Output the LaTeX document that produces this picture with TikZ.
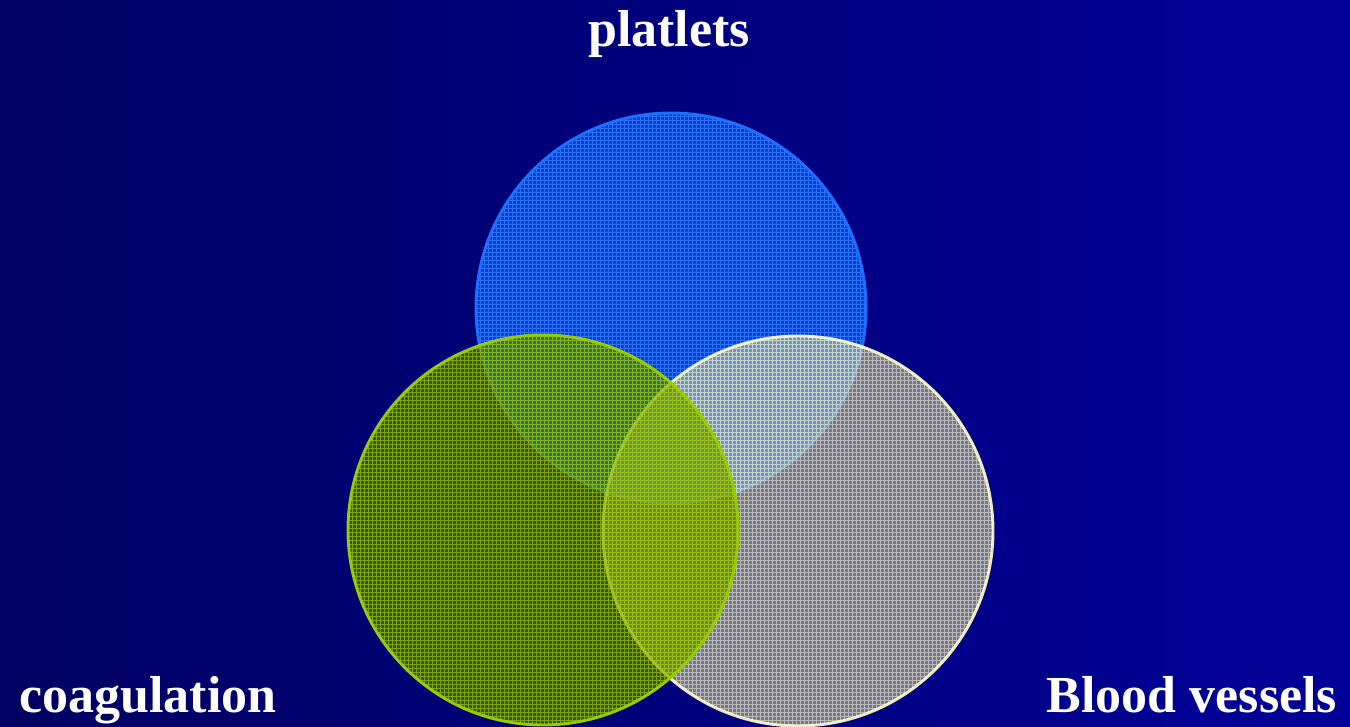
\documentclass[tikz,border=0pt]{standalone}
\usepackage{fontspec}
\setmainfont{Liberation Serif}
\definecolor{bgleft}{HTML}{000062}
\definecolor{bgright}{HTML}{000098}
\definecolor{plateblue}{HTML}{0040D4}
\definecolor{plategrid}{HTML}{3A7CFF}
\definecolor{plateedge}{HTML}{1E6EFF}
\definecolor{vesselfill}{HTML}{D6D6A8}
\definecolor{vesselgrid}{HTML}{FFFFCC}
\definecolor{coagfill}{HTML}{6E8E08}
\definecolor{coaggrid}{HTML}{99CC00}
\begin{document}
\begin{tikzpicture}[x=0.75pt,y=-0.75pt,
    venntext/.style={text=white,font=\bfseries\fontsize{39pt}{44pt}\selectfont,anchor=base,inner sep=0pt},
    ring/.style={line width=2.2pt},
    mesh/.style={line width=0.6pt,step=3pt}]
				% background
				\shade[left color=bgleft,right color=bgright] (0,0) rectangle (1350,726);
				\useasboundingbox (0,0) rectangle (1350,726);
				% platelets circle
				\fill[plateblue] (671,308) circle (195);
				\begin{scope}
					\clip (671,308) circle (195);
					\draw[mesh,plategrid,draw opacity=0.8] (474,505) grid (868,111);
				\end{scope}
				\draw[plateedge,ring] (671,308) circle (195);
				% blood vessels circle
				\fill[vesselfill,fill opacity=0.55] (798,531) circle (195);
				\begin{scope}
					\clip (798,531) circle (195);
					\draw[mesh,vesselgrid,draw opacity=0.5] (601,728) grid (995,334);
				\end{scope}
				\draw[vesselgrid,ring,draw opacity=0.9] (798,531) circle (195);
				% coagulation circle
				\fill[coagfill,fill opacity=0.55] (543,530) circle (195);
				\begin{scope}
					\clip (543,530) circle (195);
					\draw[mesh,coaggrid,draw opacity=0.7] (346,727) grid (740,333);
				\end{scope}
				\draw[coaggrid,ring] (543,530) circle (195);
				% labels
				\node[venntext] (platlets) at (669,46) {platlets};
				\node[venntext] (coag) at (148,712) {coagulation};
				\node[venntext] (vessels) at (1192,712) {Blood vessels};
\end{tikzpicture}
\end{document}
